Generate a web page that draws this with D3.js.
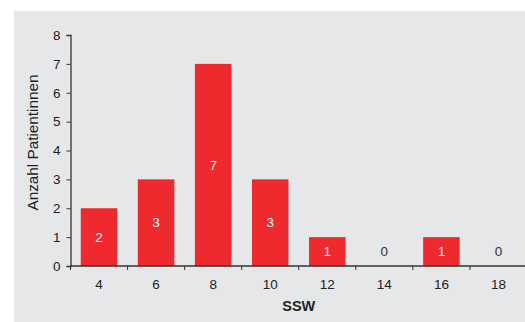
<!DOCTYPE html>
<html>
<head>
<meta charset="utf-8">
<script src="https://cdn.jsdelivr.net/npm/d3@7"></script>
<style>
  html, body { margin: 0; padding: 0; background: #ffffff; }
  svg { display: block; }
  text { font-family: "Liberation Sans", Arial, Helvetica, sans-serif; }
</style>
</head>
<body>
<svg id="chart" width="525" height="322"></svg>
<script>
// Schwangerschaftswoche (SSW) categories and patient counts
const weeks = ["4", "6", "8", "10", "12", "14", "16", "18"];
const counts = [2, 3, 7, 3, 1, 0, 1, 0];
const yTicks = [0, 1, 2, 3, 4, 5, 6, 7, 8];
const xTitle = "SSW";
const yTitle = "Anzahl Patientinnen";

const data = weeks.map((w, i) => ({ week: w, count: counts[i] }));

const svg = d3.select("#chart");
const W = 525, H = 322;

// grey panel
svg.append("rect")
  .attr("x", 14).attr("y", 11)
  .attr("width", W - 14).attr("height", H - 11)
  .attr("fill", "#e6e7e9");

const x0 = 70.5, x1 = 527, yBase = 266, yTop = 35;

const x = d3.scaleBand()
  .domain(weeks)
  .range([x0, x1])
  .paddingInner(0.36)
  .paddingOuter(0.18);

const y = d3.scaleLinear()
  .domain([0, 8])
  .range([yBase, yTop]);

// bars
svg.append("g")
  .selectAll("rect")
  .data(data.filter(d => d.count > 0))
  .join("rect")
  .attr("x", d => x(d.week))
  .attr("width", x.bandwidth())
  .attr("y", d => y(d.count))
  .attr("height", d => y(0) - y(d.count))
  .attr("fill", "#ee2a2f");

// value labels
svg.append("g")
  .selectAll("text")
  .data(data)
  .join("text")
  .attr("x", d => x(d.week) + x.bandwidth() / 2)
  .attr("y", d => d.count > 0 ? (y(0) + y(d.count)) / 2 : y(0.5))
  .attr("dy", "0.35em")
  .attr("text-anchor", "middle")
  .attr("font-size", 13.5)
  .attr("fill", d => d.count > 0 ? "#ffffff" : "#333333")
  .text(d => d.count);

// y axis
const yAxis = svg.append("g")
  .attr("transform", `translate(${x0},0)`)
  .call(d3.axisLeft(y).tickValues(yTicks).tickFormat(d3.format("d")).tickSize(4).tickPadding(6));
yAxis.select(".domain").attr("stroke", "#333").attr("stroke-width", 1.3);
yAxis.selectAll(".tick line").attr("stroke", "#333");
yAxis.selectAll(".tick text").attr("font-size", 13.5).attr("fill", "#222")
  .attr("font-family", "'Liberation Sans', Arial, sans-serif");

// x axis: labels centred under bands, tick marks at band boundaries
const xAxis = svg.append("g")
  .attr("transform", `translate(0,${yBase})`)
  .call(d3.axisBottom(x).tickSize(0).tickPadding(13));
xAxis.select(".domain").attr("stroke", "#333").attr("stroke-width", 1.3)
  .attr("d", `M${x0},0H${W}`);
xAxis.selectAll(".tick text").attr("font-size", 13.5).attr("fill", "#222")
  .attr("font-family", "'Liberation Sans', Arial, sans-serif");

const boundaries = weeks.slice(0, -1).map(w => x(w) + x.bandwidth() + (x.step() - x.bandwidth()) / 2);
xAxis.selectAll("line.sep")
  .data([x0].concat(boundaries))
  .join("line")
  .attr("class", "sep")
  .attr("x1", d => d).attr("x2", d => d)
  .attr("y1", 0).attr("y2", 4)
  .attr("stroke", "#333");

// axis titles
svg.append("text")
  .attr("x", (x0 + x1) / 2)
  .attr("y", 311)
  .attr("text-anchor", "middle")
  .attr("font-size", 14.5)
  .attr("font-weight", "bold")
  .attr("fill", "#222")
  .text(xTitle);

svg.append("text")
  .attr("transform", `translate(37.5,142.5) rotate(-90)`)
  .attr("text-anchor", "middle")
  .attr("font-size", 15.3)
  .attr("fill", "#222")
  .text(yTitle);
</script>
</body>
</html>
